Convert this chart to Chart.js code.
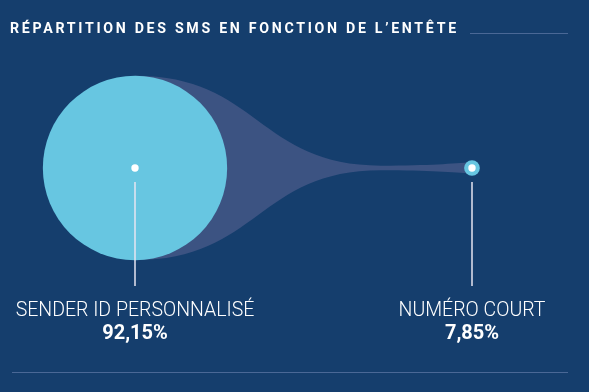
<!DOCTYPE html>
<html>
<head>
<meta charset="utf-8">
<script src="https://cdn.jsdelivr.net/npm/chart.js@4"></script>
<style>
  html, body { margin: 0; padding: 0; background: #153e6d; }
  #wrap { position: relative; width: 589px; height: 392px; }
</style>
</head>
<body>
<div id="wrap"><canvas id="c"></canvas></div>
<script>
// ---- data ----
const chartTitle = "RÉPARTITION DES SMS EN FONCTION DE L’ENTÊTE";
const categories = ["SENDER ID PERSONNALISÉ", "NUMÉRO COURT"];
const shares = [92.15, 7.85];
const shareLabels = ["92,15%", "7,85%"];

// ---- styles ----
const BG = "#153e6d";
const BUBBLE = "#67c6e1";
const FUNNEL = "#3c5382";
const RULE = "#4a6896";
const CONNECTOR = "#e6e4f0";
const RADIUS_PER_PERCENT = 1.0;

const funnelPlugin = {
  id: "funnel",
  beforeDatasetsDraw(chart) {
    const meta = chart.getDatasetMeta(0);
    const a = meta.data[0], b = meta.data[1];
    const R0 = a.options.radius, R1 = b.options.radius;
    const cy = a.y;
    const pinchX = a.x + (b.x - a.x) * 0.73;
    const pinch = 2.3;
    const m1 = (a.x + pinchX) / 2;
    const ctx = chart.ctx;
    ctx.save();
    ctx.beginPath();
    ctx.moveTo(a.x, cy - R0);
    ctx.bezierCurveTo(m1, cy - R0, m1, cy - pinch, pinchX, cy - pinch);
    ctx.bezierCurveTo(pinchX + 50, cy - pinch, b.x - 20, cy - R1 * 0.6, b.x, cy - R1 * 0.7);
    ctx.lineTo(b.x, cy + R1 * 0.7);
    ctx.bezierCurveTo(b.x - 20, cy + R1 * 0.6, pinchX + 50, cy + pinch, pinchX, cy + pinch);
    ctx.bezierCurveTo(m1, cy + pinch, m1, cy + R0, a.x, cy + R0);
    ctx.closePath();
    ctx.fillStyle = FUNNEL;
    ctx.fill();
    ctx.restore();
  },
  afterDatasetsDraw(chart) {
    const ctx = chart.ctx;
    const meta = chart.getDatasetMeta(0);
    ctx.save();
    // connectors + labels
    meta.data.forEach((p, i) => {
      ctx.strokeStyle = CONNECTOR;
      ctx.lineWidth = 1.5;
      ctx.beginPath();
      ctx.moveTo(p.x, p.y + 14);
      ctx.lineTo(p.x, 286);
      ctx.stroke();
      ctx.fillStyle = "#ffffff";
      ctx.textAlign = "center";
      ctx.textBaseline = "alphabetic";
      ctx.font = "300 19.5px Roboto";
      ctx.fillText(categories[i], p.x, 316);
      ctx.font = "700 20px Roboto";
      ctx.fillText(shareLabels[i], p.x, 339);
    });
    // title
    ctx.textAlign = "left";
    ctx.font = "700 14.2px Roboto";
    ctx.letterSpacing = "2.7px";
    ctx.fillStyle = "#ffffff";
    ctx.fillText(chartTitle, 10, 33);
    ctx.letterSpacing = "0px";
    // rules
    ctx.strokeStyle = RULE;
    ctx.lineWidth = 1;
    ctx.beginPath();
    ctx.moveTo(470, 33.5); ctx.lineTo(568, 33.5);
    ctx.moveTo(12, 372.5); ctx.lineTo(568, 372.5);
    ctx.stroke();
    ctx.restore();
  }
};

new Chart(document.getElementById("c"), {
  type: "bubble",
  data: {
    datasets: [
      {
        label: "shares",
        data: categories.map((c, i) => ({ x: i, y: 0, r: shares[i] * RADIUS_PER_PERCENT })),
        backgroundColor: BUBBLE,
        borderWidth: 0,
        clip: false,
        order: 2
      },
      {
        label: "centres",
        data: categories.map((c, i) => ({ x: i, y: 0, r: 3.7 })),
        backgroundColor: "#ffffff",
        borderWidth: 0,
        clip: false,
        order: 1
      }
    ]
  },
  options: {
    responsive: true,
    maintainAspectRatio: false,
    animation: false,
    events: [],
    layout: { padding: 0, autoPadding: false },
    plugins: { legend: { display: false }, tooltip: { enabled: false }, title: { display: false } },
    scales: {
      x: { type: "linear", display: false, min: -135 / 337, max: 454 / 337 },
      y: { type: "linear", display: false, min: -224 / 392, max: 168 / 392 }
    }
  },
  plugins: [funnelPlugin]
});
</script>
</body>
</html>
